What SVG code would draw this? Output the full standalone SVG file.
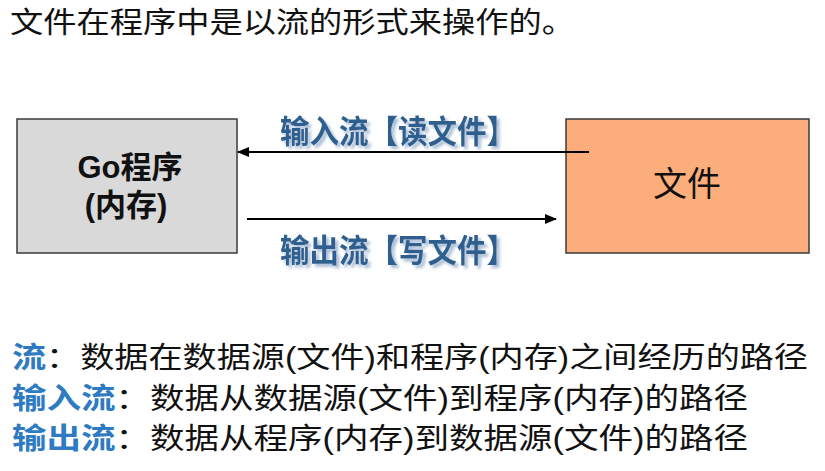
<svg xmlns="http://www.w3.org/2000/svg" width="825" height="471" viewBox="0 0 825 471">
<style>
.t{font-family:"Liberation Sans","Noto Sans CJK SC",sans-serif;fill:#111}
.cn{font-family:"Noto Sans CJK SC",sans-serif}
.lbl{font-family:"Noto Sans CJK SC",sans-serif;font-weight:bold;font-size:32px;fill:#2f5f8f;filter:url(#sh)}
.blue{fill:#2e7bc4;font-weight:bold}
.box{stroke:#3a3a3a;stroke-width:1.5}
.ln{stroke:#000;stroke-width:2;fill:none}
</style>
<defs>
<marker id="ah" markerWidth="12" markerHeight="10" refX="11" refY="5" orient="auto" markerUnits="userSpaceOnUse">
<path d="M0,0 L12,5 L0,10 Z" fill="#000"/>
</marker>
<filter id="sh" x="-10%" y="-30%" width="120%" height="160%">
<feDropShadow dx="3" dy="3" stdDeviation="1.5" flood-color="#9fb6d0" flood-opacity="0.9"/>
</filter>
</defs>
<rect width="825" height="471" fill="#fff"/>
<text class="t cn" x="10" y="33" font-size="29" textLength="565" lengthAdjust="spacingAndGlyphs">文件在程序中是以流的形式来操作的。</text>
<g id="go">
<rect class="box" x="17" y="119" width="220" height="134" fill="#d9d9d9"/>
<text class="t" x="130" y="178" font-size="31" font-weight="bold" text-anchor="middle">Go程序</text>
<text class="t" x="126" y="216" font-size="31" font-weight="bold" text-anchor="middle">(内存)</text>
</g>
<g id="file">
<rect class="box" x="566" y="119" width="243" height="134" fill="#fbae7c"/>
<text class="t cn" x="687" y="196" font-size="34" text-anchor="middle">文件</text>
</g>
<g id="connectors">
<line class="ln" x1="589" y1="152" x2="238" y2="152" marker-end="url(#ah)"/>
<line class="ln" x1="247" y1="219" x2="556" y2="219" marker-end="url(#ah)"/>
<text class="lbl" x="280" y="143" textLength="236" lengthAdjust="spacingAndGlyphs">输入流【读文件】</text>
<text class="lbl" x="280" y="262" textLength="236" lengthAdjust="spacingAndGlyphs">输出流【写文件】</text>
</g>
<text class="t" x="12" y="368" font-size="29" textLength="796" lengthAdjust="spacingAndGlyphs"><tspan class="blue">流</tspan>：数据在数据源(文件)和程序(内存)之间经历的路径</text>
<text class="t" x="12" y="409" font-size="29" textLength="736" lengthAdjust="spacingAndGlyphs"><tspan class="blue">输入流</tspan>：数据从数据源(文件)到程序(内存)的路径</text>
<text class="t" x="12" y="449" font-size="29" textLength="736" lengthAdjust="spacingAndGlyphs"><tspan class="blue">输出流</tspan>：数据从程序(内存)到数据源(文件)的路径</text>
</svg>
